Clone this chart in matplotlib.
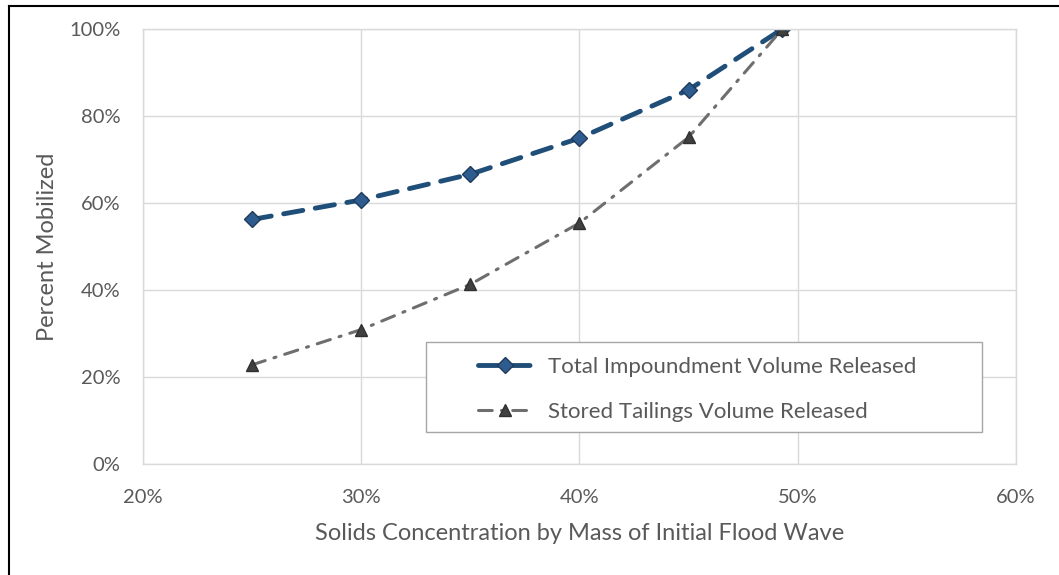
import matplotlib.pyplot as plt
from matplotlib.ticker import PercentFormatter
from matplotlib.lines import Line2D
from matplotlib.patches import Rectangle

plt.rcParams['font.family'] = ['Lato', 'DejaVu Sans']

# Datos
solids = [25, 30, 35, 40, 45, 49.3]
total_released = [56.2, 60.7, 66.6, 74.9, 86.0, 100.0]
stored_released = [22.8, 30.9, 41.3, 55.4, 75.1, 100.0]

fig = plt.figure(figsize=(10.59, 5.75), dpi=100)
ax = fig.add_axes([0.135, 0.193, 0.8244, 0.7567])

ax.plot(solids, total_released, color='#1F4E79', linewidth=3.5, dashes=(4, 2.6),
        dash_capstyle='round', marker='D', markersize=8.5, markerfacecolor='#2E5C8F',
        markeredgecolor='#1F3B5C', markeredgewidth=1, label='Total Impoundment Volume Released')
ax.plot(solids, stored_released, color='#6E6E6E', linewidth=2.2, dashes=(4.5, 3, 0.7, 3),
        dash_capstyle='round', marker='^', markersize=8.5, markerfacecolor='#404040',
        markeredgecolor='#303030', markeredgewidth=1, label='Stored Tailings Volume Released')

ax.set_xlim(20, 60)
ax.set_ylim(0, 100)
ax.set_xticks([20, 30, 40, 50, 60])
ax.set_yticks([0, 20, 40, 60, 80, 100])
ax.xaxis.set_major_formatter(PercentFormatter(decimals=0))
ax.yaxis.set_major_formatter(PercentFormatter(decimals=0))
ax.grid(color='#D9D9D9', linewidth=1)
ax.set_axisbelow(True)
for s in ax.spines.values():
    s.set_color('#D9D9D9')
    s.set_linewidth(1)
ax.tick_params(length=0, labelsize=14.5, colors='#595959')
ax.tick_params(axis='x', pad=18)
ax.tick_params(axis='y', pad=16)

ax.set_xlabel('Solids Concentration by Mass of Initial Flood Wave', fontsize=17,
              color='#595959', labelpad=12)
ax.set_ylabel('Percent Mobilized', fontsize=17, color='#595959', labelpad=8)

# Caja de la leyenda (tamaño fijo como en el original)
ax.add_patch(Rectangle((0.3242, 0.0736), 0.6369, 0.2069, transform=ax.transAxes,
                       facecolor='white', edgecolor='#A6A6A6', linewidth=1, zorder=5))
leg = ax.legend(loc='upper left', bbox_to_anchor=(0.3837, 0.2455), fontsize=16,
                frameon=False, handlelength=2.45, borderpad=0, labelspacing=1.1,
                handletextpad=0.7, borderaxespad=0)
leg.set_zorder(6)
for t in leg.get_texts():
    t.set_color('#595959')

# Marco de la figura
fig.add_artist(Line2D([9 / 1059, 9 / 1059], [0, 1 - 6 / 575], color='black', linewidth=1.5,
                      transform=fig.transFigure))
fig.add_artist(Line2D([9 / 1059, 1], [1 - 6 / 575, 1 - 6 / 575], color='black', linewidth=1.5,
                      transform=fig.transFigure))

fig.savefig('out.png', dpi=100)
